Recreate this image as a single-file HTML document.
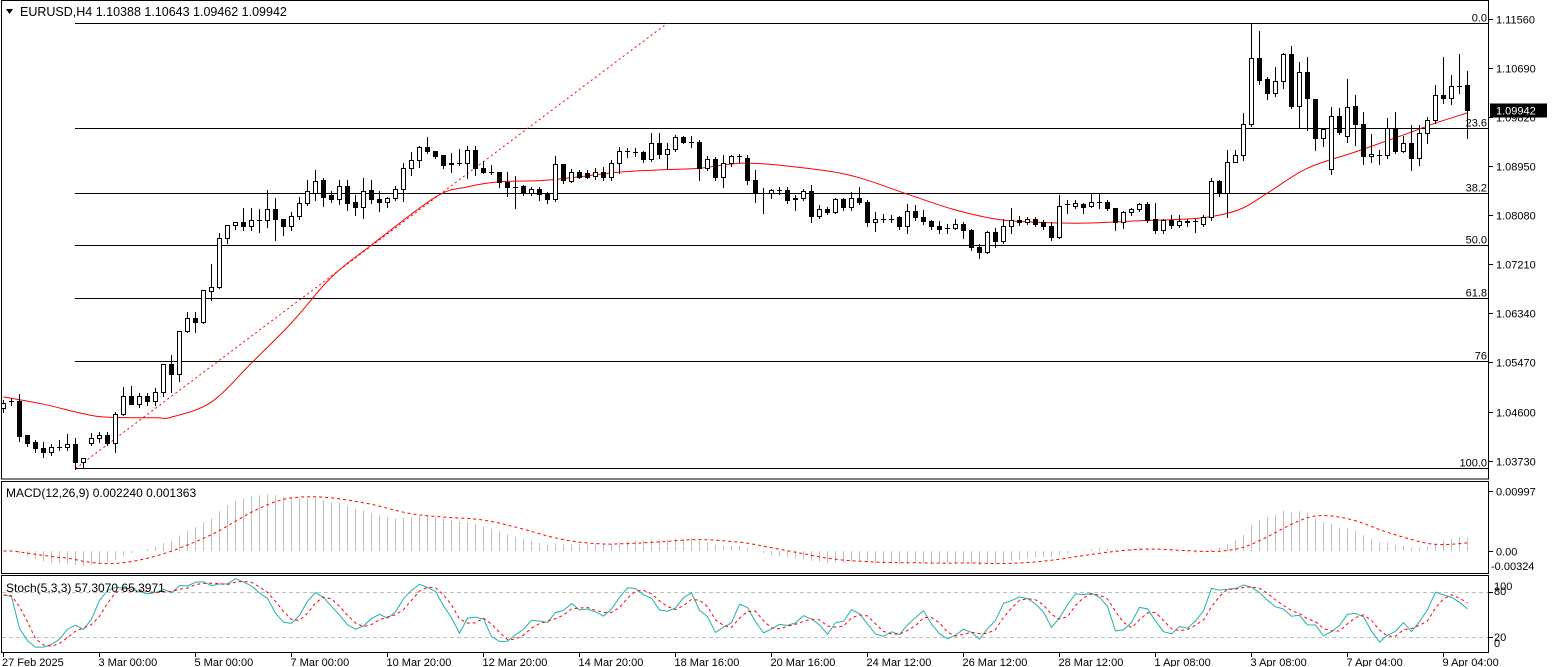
<!DOCTYPE html>
<html><head><meta charset="utf-8"><style>
html,body{margin:0;padding:0;background:#fff;width:1553px;height:667px;overflow:hidden;}
svg{display:block;font-family:"Liberation Sans",sans-serif;}
</style></head><body>
<svg id="chart" width="1553" height="667" viewBox="0 0 1553 667" xmlns="http://www.w3.org/2000/svg">
<defs>
<clipPath id="cMain"><rect x="2" y="1" width="1487" height="478"/></clipPath>
<clipPath id="cMacd"><rect x="2" y="482" width="1487" height="91"/></clipPath>
<clipPath id="cSto"><rect x="2" y="576" width="1487" height="76"/></clipPath>
</defs>
<rect x="0" y="0" width="1553" height="667" fill="#fff"/>
<g id="gMain" clip-path="url(#cMain)"></g>
<g id="gMacd" clip-path="url(#cMacd)"></g>
<g id="gSto" clip-path="url(#cSto)"></g>
<g id="gAxis"></g>
<rect x="1.5" y="0.5" width="1487" height="478.5" fill="none" stroke="#000"/>
<rect x="1.5" y="481.5" width="1487" height="92" fill="none" stroke="#000"/>
<rect x="1.5" y="575.5" width="1487" height="77" fill="none" stroke="#000"/>
<polygon points="6,9 13,9 9.5,14" fill="#000"/>
<text x="20" y="16" font-size="12.5" fill="#000">EURUSD,H4  1.10388 1.10643 1.09462 1.09942</text>
<text x="6" y="497" font-size="12" fill="#000">MACD(12,26,9) 0.002240 0.001363</text>
<text x="6" y="592" font-size="12" fill="#000">Stoch(5,3,3) 57.3070 65.3971</text>
</svg>
<script>
const open=[1.0467,1.0478,1.0478,1.0418,1.0407,1.0396,1.0389,1.0398,1.0398,1.0402,
1.0370,1.0405,1.0414,1.0419,1.0405,1.0455,1.0487,1.0474,1.0487,1.0478,
1.0494,1.0545,1.0527,1.0602,1.0625,1.0618,1.0673,1.0680,1.0767,1.0791,
1.0795,1.0788,1.0800,1.0800,1.0818,1.0802,1.0788,1.0806,1.0830,1.0848,
1.0871,1.0843,1.0836,1.0860,1.0832,1.0823,1.0852,1.0837,1.0832,1.0839,
1.0855,1.0891,1.0905,1.0928,1.0921,1.0914,1.0898,1.0901,1.0901,1.0924,
1.0891,1.0885,1.0885,1.0866,1.0857,1.0859,1.0848,1.0855,1.0846,1.0837,
1.0898,1.0869,1.0884,1.0882,1.0878,1.0884,1.0875,1.0901,1.0922,1.0919,
1.0919,1.0907,1.0935,1.0917,1.0926,1.0947,1.0938,1.0938,1.0892,1.0908,
1.0875,1.0900,1.0912,1.0910,1.0871,1.0848,1.0848,1.0853,1.0853,1.0836,
1.0839,1.0850,1.0806,1.0818,1.0814,1.0836,1.0822,1.0839,1.0832,1.0795,
1.0802,1.0802,1.0804,1.0788,1.0816,1.0804,1.0797,1.0788,1.0786,1.0786,
1.0793,1.0781,1.0752,1.0742,1.0779,1.0763,1.0788,1.0799,1.0795,1.0802,
1.0795,1.0788,1.0770,1.0827,1.0825,1.0827,1.0825,1.0832,1.0832,1.0820,
1.0795,1.0813,1.0818,1.0827,1.0802,1.0781,1.0799,1.0790,1.0797,1.0797,
1.0793,1.0804,1.0868,1.0848,1.0903,1.0915,1.0970,1.1087,1.1050,1.1025,
1.1045,1.1093,1.1002,1.1061,1.1013,1.0944,1.0889,1.0983,1.0949,1.1002,
1.0970,1.0912,1.0915,1.0914,1.0963,1.0922,1.0935,1.0910,1.0954,1.0977,
1.1020,1.1015,1.1036,1.10388];
const high=[1.0481,1.0485,1.0492,1.0418,1.0411,1.0407,1.0403,1.0411,1.0421,1.0414,
1.0377,1.0423,1.0425,1.0425,1.0460,1.0504,1.0506,1.0494,1.0494,1.0503,
1.0545,1.0561,1.0602,1.0637,1.0637,1.0676,1.0722,1.0777,1.0791,1.0797,
1.0822,1.0822,1.0820,1.0853,1.0839,1.0802,1.0814,1.0841,1.0871,1.0889,
1.0875,1.0852,1.0871,1.0871,1.0845,1.0875,1.0871,1.0852,1.0841,1.0860,
1.0901,1.0921,1.0931,1.0947,1.0922,1.0915,1.0919,1.0926,1.0931,1.0931,
1.0905,1.0898,1.0885,1.0885,1.0878,1.0862,1.0859,1.0859,1.0850,1.0914,
1.0900,1.0891,1.0889,1.0889,1.0892,1.0894,1.0907,1.0930,1.0928,1.0928,
1.0922,1.0954,1.0954,1.0937,1.0951,1.0949,1.0949,1.0942,1.0914,1.0912,
1.0915,1.0915,1.0917,1.0915,1.0889,1.0857,1.0855,1.0859,1.0859,1.0845,
1.0855,1.0862,1.0827,1.0823,1.0839,1.0839,1.0850,1.0859,1.0836,1.0814,
1.0811,1.0809,1.0807,1.0829,1.0827,1.0818,1.0800,1.0799,1.0793,1.0802,
1.0797,1.0784,1.0758,1.0781,1.0786,1.0802,1.0822,1.0807,1.0806,1.0806,
1.0800,1.0797,1.0845,1.0836,1.0836,1.0830,1.0846,1.0848,1.0836,1.0822,
1.0816,1.0822,1.0830,1.0832,1.0830,1.0802,1.0809,1.0809,1.0802,1.0802,
1.0809,1.0875,1.0871,1.0924,1.0924,1.0990,1.1149,1.1135,1.1054,1.1071,
1.1096,1.1109,1.1080,1.1089,1.1013,1.0963,1.1000,1.0999,1.1050,1.1022,
1.0992,1.0953,1.0924,1.0981,1.0992,1.0949,1.0969,1.0969,1.0983,1.1039,
1.1089,1.1057,1.1094,1.10643];
const low=[1.0460,1.0473,1.0409,1.0400,1.0389,1.0380,1.0384,1.0393,1.0393,1.0360,
1.0363,1.0402,1.0407,1.0402,1.0389,1.0455,1.0474,1.0469,1.0473,1.0473,
1.0489,1.0496,1.0515,1.0602,1.0602,1.0618,1.0659,1.0680,1.0760,1.0784,
1.0783,1.0783,1.0779,1.0788,1.0765,1.0774,1.0783,1.0802,1.0827,1.0836,
1.0825,1.0832,1.0829,1.0818,1.0809,1.0804,1.0830,1.0816,1.0823,1.0836,
1.0834,1.0880,1.0894,1.0919,1.0910,1.0892,1.0885,1.0898,1.0875,1.0880,
1.0884,1.0882,1.0859,1.0843,1.0822,1.0845,1.0845,1.0836,1.0830,1.0834,
1.0866,1.0868,1.0875,1.0875,1.0873,1.0871,1.0871,1.0884,1.0912,1.0914,
1.0903,1.0905,1.0910,1.0891,1.0922,1.0937,1.0930,1.0871,1.0889,1.0871,
1.0859,1.0896,1.0903,1.0864,1.0832,1.0813,1.0839,1.0846,1.0830,1.0818,
1.0836,1.0797,1.0804,1.0811,1.0813,1.0818,1.0818,1.0829,1.0790,1.0781,
1.0797,1.0797,1.0784,1.0777,1.0800,1.0793,1.0784,1.0777,1.0777,1.0784,
1.0768,1.0747,1.0733,1.0742,1.0752,1.0760,1.0777,1.0791,1.0793,1.0790,
1.0784,1.0765,1.0768,1.0813,1.0822,1.0813,1.0823,1.0822,1.0818,1.0783,
1.0786,1.0809,1.0816,1.0797,1.0777,1.0777,1.0786,1.0788,1.0790,1.0779,
1.0790,1.0800,1.0843,1.0806,1.0907,1.0907,1.0967,1.1041,1.1015,1.1020,
1.1034,1.0999,1.0963,1.0960,1.0924,1.0931,1.0882,1.0953,1.0938,1.0933,
1.0900,1.0903,1.0900,1.0910,1.0919,1.0921,1.0889,1.0898,1.0937,1.0972,
1.1008,1.1006,1.1025,1.09462];
const close=[1.0476,1.0478,1.0416,1.0405,1.0395,1.0389,1.0398,1.0398,1.0402,1.0370,
1.0377,1.0414,1.0419,1.0405,1.0455,1.0487,1.0474,1.0487,1.0478,1.0494,
1.0545,1.0527,1.0602,1.0625,1.0618,1.0676,1.0680,1.0767,1.0791,1.0795,
1.0788,1.0800,1.0800,1.0818,1.0802,1.0788,1.0806,1.0830,1.0850,1.0869,
1.0841,1.0836,1.0860,1.0830,1.0823,1.0850,1.0837,1.0832,1.0839,1.0855,
1.0891,1.0905,1.0928,1.0921,1.0912,1.0896,1.0901,1.0901,1.0924,1.0891,
1.0884,1.0885,1.0866,1.0857,1.0857,1.0848,1.0855,1.0846,1.0837,1.0898,
1.0871,1.0884,1.0876,1.0876,1.0884,1.0875,1.0901,1.0922,1.0922,1.0919,
1.0907,1.0935,1.0917,1.0926,1.0946,1.0938,1.0938,1.0892,1.0908,1.0875,
1.0900,1.0912,1.0912,1.0871,1.0848,1.0848,1.0852,1.0853,1.0834,1.0839,
1.0850,1.0806,1.0818,1.0813,1.0836,1.0822,1.0839,1.0832,1.0795,1.0802,
1.0802,1.0802,1.0788,1.0816,1.0804,1.0797,1.0788,1.0784,1.0786,1.0793,
1.0781,1.0752,1.0742,1.0779,1.0763,1.0788,1.0800,1.0795,1.0802,1.0793,
1.0788,1.0770,1.0825,1.0827,1.0829,1.0823,1.0832,1.0832,1.0820,1.0795,
1.0813,1.0818,1.0827,1.0800,1.0781,1.0799,1.0791,1.0797,1.0795,1.0797,
1.0804,1.0868,1.0848,1.0903,1.0915,1.0970,1.1087,1.1048,1.1025,1.1045,
1.1093,1.1002,1.1061,1.1015,1.0944,1.0960,1.0983,1.0956,1.1000,1.0970,
1.0912,1.0917,1.0915,1.0963,1.0922,1.0935,1.0910,1.0954,1.0977,1.1020,
1.1015,1.1036,1.1036,1.09942];
const maIdx=[0,5,10,13,19,21,26,31,36,41,46,54,58,62,68,77,82,87,93,102,107,113,119,125,132,136,142,148,152,155,158,163,169,175,179,183];
const maVal=[1.0487,1.0474,1.0457,1.0451,1.0450,1.0451,1.0478,1.0547,1.0618,1.0699,1.0756,1.0841,1.0859,1.0868,1.0871,1.0885,1.0889,1.0892,1.0901,1.0889,1.0875,1.0846,1.0818,1.0800,1.0795,1.0795,1.0799,1.0802,1.0809,1.0822,1.0848,1.0892,1.0921,1.0951,1.0972,1.0990];
const fibLevels=[0,23.6,38.2,50,61.8,76,100];
const fibLabels=["0.0","23.6","38.2","50.0","61.8","76","100.0"];
const fibAnchorIdx=[9,156];
const trendIdx=[9,83];
const priceTicks=[1.11560,1.10690,1.09820,1.08950,1.08080,1.07210,1.06340,1.05470,1.04600,1.03730];
const timeIdx=[0,12,24,36,48,60,72,84,96,108,120,132,144,156,168,180];
const timeLabels=["27 Feb 2025","3 Mar 00:00","5 Mar 00:00","7 Mar 00:00","10 Mar 20:00","12 Mar 20:00","14 Mar 20:00","18 Mar 16:00","20 Mar 16:00","24 Mar 12:00","26 Mar 12:00","28 Mar 12:00","1 Apr 08:00","3 Apr 08:00","7 Apr 04:00","9 Apr 04:00"];
const macdTicks=[0.00997,0.00];
const stochLevels=[80,20];

const NS="http://www.w3.org/2000/svg";
function mk(tag,attrs,parent){const e=document.createElementNS(NS,tag);for(const k in attrs)e.setAttribute(k,attrs[k]);parent.appendChild(e);return e;}
const gMain=document.getElementById('gMain'),gMacd=document.getElementById('gMacd'),gSto=document.getElementById('gSto'),gAxis=document.getElementById('gAxis');
function xc(i){return 3.5+8*i;}
function yp(p){return (1.1190-p)*5645;}
function snap(v){return Math.round(v-0.5)+0.5;}
function yM(v){return 551-v*6018;}
function yS(v){return 652-v*0.75;}

const fLo=low[fibAnchorIdx[0]],fHi=high[fibAnchorIdx[1]];
fibLevels.forEach((lv,k)=>{
  const p=fHi-(fHi-fLo)*lv/100;const y=snap(yp(p));
  const l=mk('line',{x1:xc(fibAnchorIdx[0])-0.5,x2:1488,y1:y,y2:y,stroke:'#000','stroke-width':1},gMain);
  
  
  const t=mk('text',{x:1487,y:y-2,'font-size':11,'text-anchor':'end',fill:'#000'},gMain);
  t.textContent=fibLabels[k];
  
  
});
{
  const x1=xc(trendIdx[0]),y1=yp(fLo),x2=xc(trendIdx[1]),y2=yp(fHi);
  const tl=mk('line',{x1:x1,y1:y1,x2:x2,y2:y2,stroke:'#ff0000','stroke-width':1,'stroke-dasharray':'2,3'},gMain);
  
  
}
{
  const pts=maIdx.map((i,k)=>[xc(i),yp(maVal[k])]);
  let d='M'+pts[0][0]+','+pts[0][1];
  for(let k=0;k<pts.length-1;k++){
    const p0=pts[Math.max(0,k-1)],p1=pts[k],p2=pts[k+1],p3=pts[Math.min(pts.length-1,k+2)];
    const c1=[p1[0]+(p2[0]-p0[0])/6,p1[1]+(p2[1]-p0[1])/6],c2=[p2[0]-(p3[0]-p1[0])/6,p2[1]-(p3[1]-p1[1])/6];
    d+=' C'+c1[0]+','+c1[1]+' '+c2[0]+','+c2[1]+' '+p2[0]+','+p2[1];
  }
  const ma=mk('path',{d:d,fill:'none',stroke:'#ff0000','stroke-width':1},gMain);
  
  
}
for(let i=0;i<close.length;i++){
  const x=xc(i);
  const g=mk('g',{},gMain);
  
  
  mk('line',{x1:x,x2:x,y1:Math.round(yp(high[i])),y2:Math.round(yp(low[i]))+1,stroke:'#000','stroke-width':1},g);
  const yo=snap(yp(open[i])),yc=snap(yp(close[i]));
  if(Math.abs(yo-yc)<1){
    mk('line',{x1:x-2.5,x2:x+2.5,y1:yc,y2:yc,stroke:'#000','stroke-width':1},g);
  } else {
    const top=Math.min(yo,yc),h=Math.abs(yo-yc);
    mk('rect',{x:x-2,y:top,width:4,height:h,fill:close[i]>open[i]?'#fff':'#000',stroke:'#000','stroke-width':1},g);
  }
}
const e12=[],e26=[],macd=[],sig=[];
for(let i=0;i<close.length;i++){
  e12[i]=i?e12[i-1]+(close[i]-e12[i-1])*2/13:close[i];
  e26[i]=i?e26[i-1]+(close[i]-e26[i-1])*2/27:close[i];
  macd[i]=e12[i]-e26[i];
  const s=Math.max(0,i-8);let sum=0;for(let j=s;j<=i;j++)sum+=macd[j];sig[i]=sum/(i-s+1);
}
for(let i=0;i<macd.length;i++){
  const b=mk('line',{x1:xc(i),x2:xc(i),y1:551,y2:yM(macd[i]),stroke:'#c0c0c0','stroke-width':1},gMacd);
  
  
}
{
  const sl=mk('polyline',{points:sig.map((v,i)=>xc(i)+','+yM(v)).join(' '),fill:'none',stroke:'#ff0000','stroke-width':1,'stroke-dasharray':'3,3'},gMacd);
  
  
}
const num=[],den=[],K=[],D=[];
for(let i=0;i<close.length;i++){
  let hh=-1e9,ll=1e9;for(let j=Math.max(0,i-4);j<=i;j++){hh=Math.max(hh,high[j]);ll=Math.min(ll,low[j]);}
  num[i]=close[i]-ll;den[i]=hh-ll;
  let sn=0,sd=0;for(let j=Math.max(0,i-2);j<=i;j++){sn+=num[j];sd+=den[j];}
  K[i]=sd>0?100*sn/sd:50;
  let sk=0,c=0;for(let j=Math.max(0,i-2);j<=i;j++){sk+=K[j];c++;}D[i]=sk/c;
}
stochLevels.forEach(lv=>{
  const y=snap(yS(lv));
  const l=mk('line',{x1:2,x2:1488,y1:y,y2:y,stroke:'#c0c0c0','stroke-dasharray':'4,3'},gSto);
  
  
});
{
  const kl=mk('polyline',{points:K.map((v,i)=>xc(i)+','+yS(v)).join(' '),fill:'none',stroke:'#20b2aa','stroke-width':1},gSto);
  
  
  const dl=mk('polyline',{points:D.map((v,i)=>xc(i)+','+yS(v)).join(' '),fill:'none',stroke:'#ff0000','stroke-width':1,'stroke-dasharray':'3,3'},gSto);
  
  
}
priceTicks.forEach(p=>{
  const y=snap(yp(p));
  mk('line',{x1:1489,x2:1493,y1:y,y2:y,stroke:'#000'},gAxis);
  const t=mk('text',{x:1496,y:y+4,'font-size':11,fill:'#000'},gAxis);
  t.textContent=p.toFixed(5);
  
  
});
{
  const yc=snap(yp(close[close.length-1]));
  const r=mk('rect',{x:1490,y:yc-7,width:57,height:14,fill:'#000'},gAxis);
  
  
  const t=mk('text',{x:1496,y:yc+4,'font-size':11,fill:'#fff'},gAxis);
  t.textContent=close[close.length-1].toFixed(5);
  
  
}
macdTicks.forEach(v=>{
  const y=snap(yM(v));
  mk('line',{x1:1489,x2:1493,y1:y,y2:y,stroke:'#000'},gAxis);
  const t=mk('text',{x:1496,y:y+4,'font-size':11,fill:'#000'},gAxis);
  t.textContent=v===0?'0.00':v.toFixed(5);
  
  
});
{
  const t=mk('text',{x:1491,y:570,'font-size':11,fill:'#000'},gAxis);
  t.textContent='-0.00324';
  
  
}
[[100,590],[80,595],[20,641],[0,647]].forEach(a=>{
  const t=mk('text',{x:1494,y:a[1],'font-size':11,fill:'#000'},gAxis);
  t.textContent=String(a[0]);
  
  
});
stochLevels.forEach(lv=>{const y=snap(yS(lv));mk('line',{x1:1489,x2:1493,y1:y,y2:y,stroke:'#000'},gAxis);});
timeIdx.forEach((i,k)=>{
  const x=xc(i);
  mk('line',{x1:x,x2:x,y1:653,y2:657,stroke:'#000'},gAxis);
  const t=mk('text',{x:k===0?2:x-1,y:666,'font-size':11,fill:'#000'},gAxis);
  t.textContent=timeLabels[k];
  
  
});
</script>
</body></html>
